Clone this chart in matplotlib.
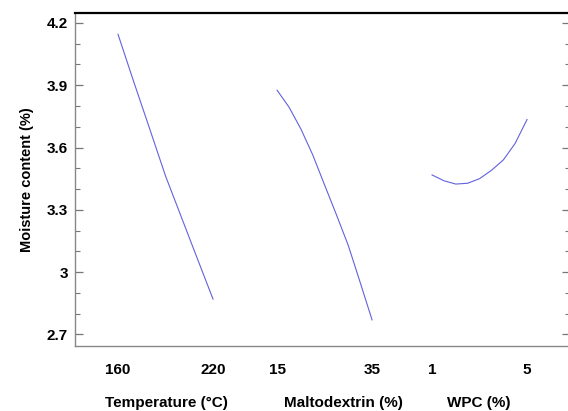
"""
Main effects plot: moisture content vs. drying factors
"""

import numpy as np
import matplotlib
matplotlib.use("Agg")
import matplotlib.pyplot as plt
from matplotlib.ticker import MultipleLocator, FixedLocator


plt.rcParams["font.family"] = ["Liberation Sans", "DejaVu Sans"]
plt.rcParams["font.weight"] = "bold"
plt.rcParams["axes.labelweight"] = "bold"

# factor levels
temp = [160, 170, 180, 190, 200, 210, 220]
temp_mc = [4.145, 3.915, 3.69, 3.463, 3.265, 3.067, 2.87]

malto = [15, 17.5, 20, 22.5, 25, 27.5, 30, 32.5, 35]
malto_mc = [3.876, 3.795, 3.69, 3.565, 3.42, 3.276, 3.128, 2.95, 2.77]

wpc = [1, 1.5, 2, 2.5, 3, 3.5, 4, 4.5, 5]
wpc_mc = [3.468, 3.44, 3.424, 3.428, 3.45, 3.49, 3.54, 3.62, 3.735]

factor_names = ["Temperature (\u00b0C)", "Maltodextrin (%)", "WPC (%)"]
yticks = [2.7, 3.0, 3.3, 3.6, 3.9, 4.2]
ytick_labels = ["2.7", "3", "3.3", "3.6", "3.9", "4.2"]

# each factor gets its own slot on a shared x axis
offsets = [0.0, 1.674, 3.305]
factors = [(temp, temp_mc), (malto, malto_mc), (wpc, wpc_mc)]

fig = plt.figure(figsize=(5.68, 4.11), dpi=100)
ax = fig.add_axes([0.132, 0.158, 0.872, 0.810])

for off, (lv, mc) in zip(offsets, factors):
    lv = np.asarray(lv, dtype=float)
    xs = off + (lv - lv[0]) / (lv[-1] - lv[0])
    ax.plot(xs, mc, color="#6262dc", lw=0.8)

ax.set_xlim(-0.453, 4.76)
ax.set_ylim(2.644, 4.247)

xt, xl = [], []
for off, (lv, mc) in zip(offsets, factors):
    xt += [off, off + 1]
    xl += [str(lv[0]), str(lv[-1])]
ax.xaxis.set_major_locator(FixedLocator(xt))
ax.set_xticklabels(xl, fontsize=11)
ax.tick_params(axis="x", length=0, pad=12)

ax.yaxis.set_major_locator(FixedLocator(yticks))
ax.set_yticklabels(ytick_labels, fontsize=11)
ax.yaxis.set_minor_locator(MultipleLocator(0.1))
ax.tick_params(axis="y", which="major", direction="in", length=6, width=0.9,
               color="#777777", right=True, pad=5)
ax.tick_params(axis="y", which="minor", direction="in", length=3.5, width=0.8,
               color="#777777", right=True)

for side in ["left", "bottom", "right"]:
    ax.spines[side].set_color("#888888")
    ax.spines[side].set_linewidth(1.0)
ax.spines["top"].set_color("black")
ax.spines["top"].set_linewidth(1.6)

label_x = [0.51, 2.37, 3.80]
for x, name in zip(label_x, factor_names):
    ax.text(x, -0.17, name, transform=ax.get_xaxis_transform(),
            ha="center", va="center", fontsize=11)

ax.set_ylabel("Moisture content (%)", fontsize=10.5, labelpad=9)

fig.savefig("out.png", dpi=100)
